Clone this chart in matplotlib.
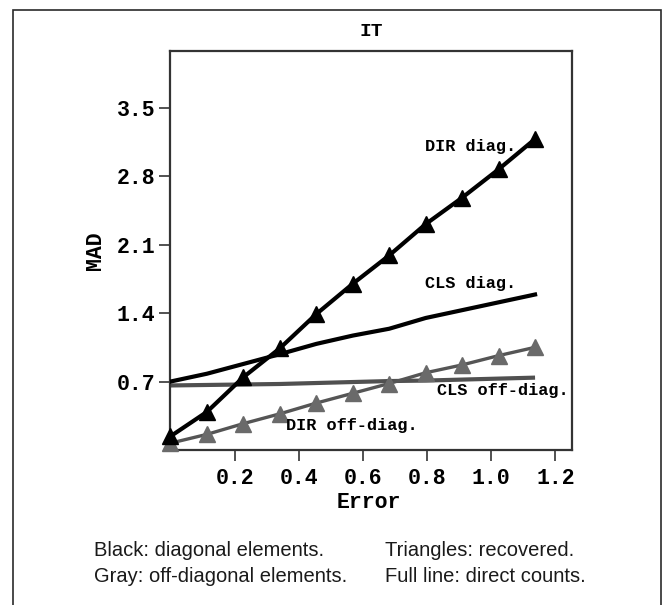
import matplotlib
matplotlib.use("Agg")
import matplotlib.pyplot as plt
from matplotlib.patches import Rectangle

# ---- data ----
error = [0.0, 0.1136, 0.2273, 0.3409, 0.4545, 0.5682, 0.6818, 0.7955, 0.9091, 1.0227, 1.1364]
dir_diag = [0.14, 0.39, 0.745, 1.04, 1.39, 1.70, 1.99, 2.31, 2.58, 2.87, 3.18]
cls_diag = [0.70, 0.78, 0.88, 0.98, 1.085, 1.17, 1.24, 1.35, 1.43, 1.51, 1.59]
cls_offdiag = [0.66, 0.665, 0.67, 0.675, 0.685, 0.695, 0.705, 0.71, 0.72, 0.73, 0.74]
dir_offdiag = [0.07, 0.16, 0.27, 0.37, 0.48, 0.58, 0.68, 0.79, 0.87, 0.965, 1.05]

xticks = [0.2, 0.4, 0.6, 0.8, 1.0, 1.2]
xticklabels = ["0.2", "0.4", "0.6", "0.8", "1.0", "1.2"]
yticks = [0.7, 1.4, 2.1, 2.8, 3.5]
yticklabels = ["0.7", "1.4", "2.1", "2.8", "3.5"]

title = "IT"
xlabel = "Error"
ylabel = "MAD"
labels = {"dir_diag": "DIR diag.", "cls_diag": "CLS diag.",
          "cls_off": "CLS off-diag.", "dir_off": "DIR off-diag."}
notes = ["Black: diagonal elements.", "Gray: off-diagonal elements.",
         "Triangles: recovered.", "Full line: direct counts."]

W, H = 663, 605
fig = plt.figure(figsize=(W / 100, H / 100), dpi=100)
fig.patch.set_facecolor("white")

mono = "Liberation Mono"
sans = "Liberation Sans"

# outer frame
fig.patches.append(Rectangle((13 / W, -0.05), (661 - 13) / W, 1.05 - 9.5 / H,
                             transform=fig.transFigure, fill=False,
                             edgecolor="#2a2a2a", linewidth=1.2, clip_on=False))

ax = fig.add_axes([170.5 / W, 1 - 450 / H, (571.5 - 170.5) / W, (450 - 51) / H])
ax.set_xlim(0, 1.25)
ax.set_ylim(0, 4.08)

gray_line = "#555555"
gray_mark = "#6a6a6a"

ax.plot(error, cls_offdiag, color="#505050", lw=3.0, solid_capstyle="butt", zorder=2)
ax.plot(error, dir_offdiag, color=gray_line, lw=2.4, marker="^", ms=11,
        mfc=gray_mark, mec=gray_mark, zorder=3, clip_on=False)
ax.plot(error, cls_diag, color="black", lw=3.0, zorder=4)
ax.plot(error, dir_diag, color="black", lw=3.0, marker="^", ms=11,
        mfc="black", mec="black", zorder=5, clip_on=False)

ann_kw = dict(fontfamily=mono, fontweight="bold", fontsize=12.2, ha="center", va="center")
ax.text(0.934, 3.105, labels["dir_diag"], **ann_kw)
ax.text(0.934, 1.707, labels["cls_diag"], **ann_kw)
ax.text(1.036, 0.608, labels["cls_off"], **ann_kw)
ax.text(0.566, 0.251, labels["dir_off"], **ann_kw)

ax.set_xticks(xticks)
ax.set_xticklabels(xticklabels)
ax.set_yticks(yticks)
ax.set_yticklabels(yticklabels)
for lab in ax.get_xticklabels() + ax.get_yticklabels():
    lab.set_fontfamily(mono)
    lab.set_fontweight("bold")
    lab.set_fontsize(15.5)
ax.tick_params(axis="both", direction="out", length=8, width=1.2, color="#333333")
ax.tick_params(axis="x", pad=5)
ax.tick_params(axis="y", pad=3)
for sp in ax.spines.values():
    sp.set_color("#333333")
    sp.set_linewidth(1.6)

fig.text(371.5 / W, 1 - 32 / H, title, fontfamily=mono, fontweight="bold",
         fontsize=14, ha="center", va="center")
fig.text(369 / W, 1 - 502 / H, xlabel, fontfamily=mono, fontweight="bold",
         fontsize=15.5, ha="center", va="center")
fig.text(95 / W, 1 - 251 / H, ylabel, fontfamily=mono, fontweight="bold",
         fontsize=15.5, ha="center", va="center", rotation=90)

note_kw = dict(fontfamily=sans, fontsize=14.5, ha="left", va="center", color="#1a1a1a")
fig.text(94 / W, 1 - 550 / H, notes[0], **note_kw)
fig.text(94 / W, 1 - 577 / H, notes[1], **note_kw)
fig.text(385 / W, 1 - 550 / H, notes[2], **note_kw)
fig.text(385 / W, 1 - 577 / H, notes[3], **note_kw)

fig.savefig("out.png", dpi=100, facecolor="white")
